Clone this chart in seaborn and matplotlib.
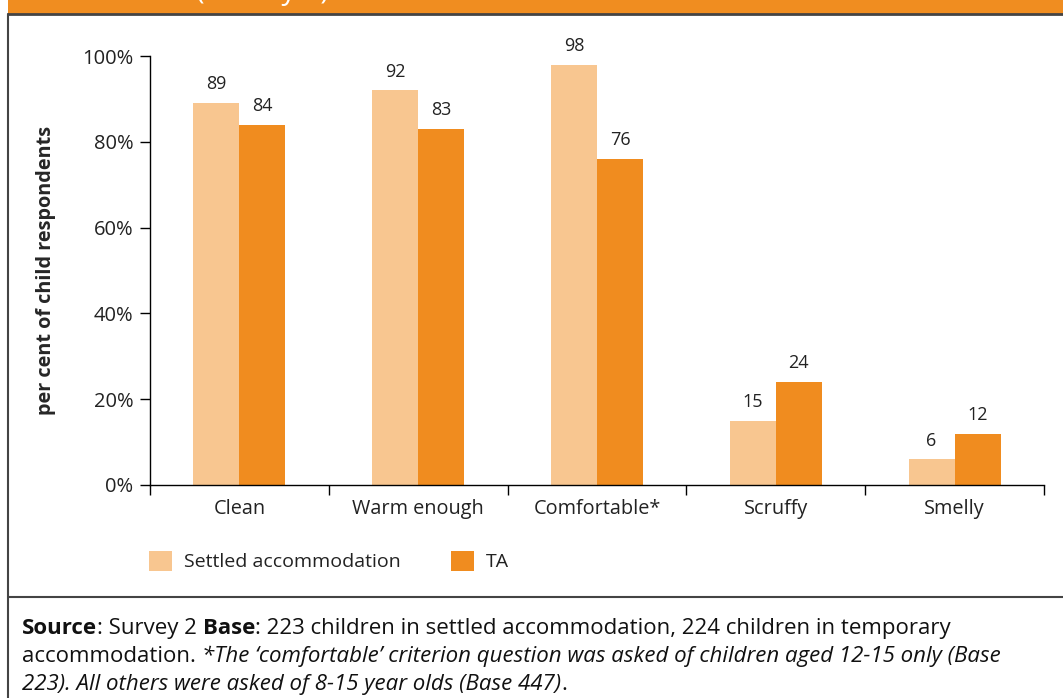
import pandas as pd
import numpy as np
import matplotlib
matplotlib.use('Agg')
import matplotlib.pyplot as plt
import seaborn as sns
from matplotlib.lines import Line2D
from matplotlib.patches import Rectangle

CATEGORIES = ['Clean', 'Warm enough', 'Comfortable*', 'Scruffy', 'Smelly']
SETTLED = [89, 92, 98, 15, 6]
TA = [84, 83, 76, 24, 12]
SERIES = ['Settled accommodation', 'TA']
COLOURS = ['#F8C690', '#F08C1F']
Y_TICKS = [0, 20, 40, 60, 80, 100]


def main():
    data = pd.DataFrame({
        'category': CATEGORIES * 2,
        'value': SETTLED + TA,
        'series': [SERIES[0]] * len(CATEGORIES) + [SERIES[1]] * len(CATEGORIES),
    })

    sns.set_style('white')
    plt.rcParams['font.family'] = ['Open Sans', 'DejaVu Sans']
    plt.rcParams['font.size'] = 14

    fig = plt.figure(figsize=(10.63, 6.98), dpi=100)
    ax = fig.add_axes([150 / 1063, 1 - 485 / 698, (1044 - 150) / 1063, (485 - 56) / 698])

    sns.barplot(data=data, x='category', y='value', hue='series', palette=COLOURS,
                width=0.515, saturation=1, linewidth=0, ax=ax, legend=True)

    for cont in ax.containers:
        ax.bar_label(cont, padding=7, fontsize=13, color='#222222')

    ax.set_xlim(-0.5, len(CATEGORIES) - 0.5)
    ax.set_ylim(0, 100)
    ax.set_yticks(Y_TICKS)
    ax.set_yticklabels([f'{t}%' for t in Y_TICKS], fontsize=14.5, color='#222222')
    ax.tick_params(axis='y', direction='out', length=7, width=1, color='black', left=True, pad=5)

    # category separators as major ticks, names as minor ticks
    ax.set_xticks(np.arange(-0.5, len(CATEGORIES)), labels=[''] * (len(CATEGORIES) + 1))
    ax.set_xticks(np.arange(len(CATEGORIES)), labels=CATEGORIES, minor=True)
    ax.tick_params(axis='x', which='major', direction='out', length=7, width=1, color='black', bottom=True)
    ax.tick_params(axis='x', which='minor', length=0, pad=10, labelsize=14.3, labelcolor='#222222')

    for side in ['top', 'right']:
        ax.spines[side].set_visible(False)
    for side in ['left', 'bottom']:
        ax.spines[side].set_color('black')
        ax.spines[side].set_linewidth(1)

    ax.set_xlabel('')
    ax.set_ylabel('per cent of child respondents', fontsize=14.3, fontweight='bold')
    ax.yaxis.set_label_coords(-94 / 894, 0.5)

    handles, labels = ax.get_legend_handles_labels()
    ax.legend(handles, labels, ncol=2, frameon=False, loc='center left',
              bbox_to_anchor=(131 / 1063, 1 - 561 / 698), bbox_transform=fig.transFigure,
              handlelength=1.2, handleheight=1.2, handletextpad=0.6, columnspacing=2.6,
              fontsize=14, labelcolor='#222222')

    # frame, banner and note box
    border = '#444444'
    fig.add_artist(Rectangle((8 / 1063, 1 - 14 / 698), 1, 14 / 698, transform=fig.transFigure,
                             facecolor='#F08D20', edgecolor='none'))
    fig.add_artist(Line2D([8 / 1063, 1], [1 - 14 / 698] * 2, transform=fig.transFigure,
                          color=border, lw=2))
    fig.add_artist(Line2D([8 / 1063] * 2, [0, 1 - 14 / 698], transform=fig.transFigure,
                          color=border, lw=1.5))
    fig.add_artist(Line2D([8 / 1063, 1], [1 - 597 / 698] * 2, transform=fig.transFigure,
                          color=border, lw=1.5))
    # banner title is cut off by the top edge in the source image
    fig.text(196 / 1063, 1 + 1 / 698, '(Survey 2)', color='white', fontsize=21,
             va='baseline', ha='left')

    fig.canvas.draw()
    renderer = fig.canvas.get_renderer()

    def write_run(x_px, y, parts):
        for txt, weight, style in parts:
            tt = fig.text(x_px / 1063, y, txt, fontsize=16, fontweight=weight, style=style,
                          color='#111111', va='baseline')
            bb = tt.get_window_extent(renderer=renderer)
            x_px = bb.x1
        return x_px

    y0 = 1 - 634 / 698
    write_run(22, y0, [('Source', 'bold', 'normal'),
                       (': Survey 2 ', 'normal', 'normal'),
                       ('Base', 'bold', 'normal'),
                       (': 223 children in settled accommodation, 224 children in temporary', 'normal', 'normal')])
    write_run(22, y0 - 28 / 698, [('accommodation. ', 'normal', 'normal'),
                                  ("*The \u2018comfortable\u2019 criterion question was asked of children aged 12-15 only (Base",
                                   'normal', 'italic')])
    write_run(22, y0 - 56 / 698, [('223). All others were asked of 8-15 year olds (Base 447)', 'normal', 'italic'),
                                  ('.', 'normal', 'normal')])

    fig.savefig('out.png', dpi=100)


if __name__ == '__main__':
    main()
